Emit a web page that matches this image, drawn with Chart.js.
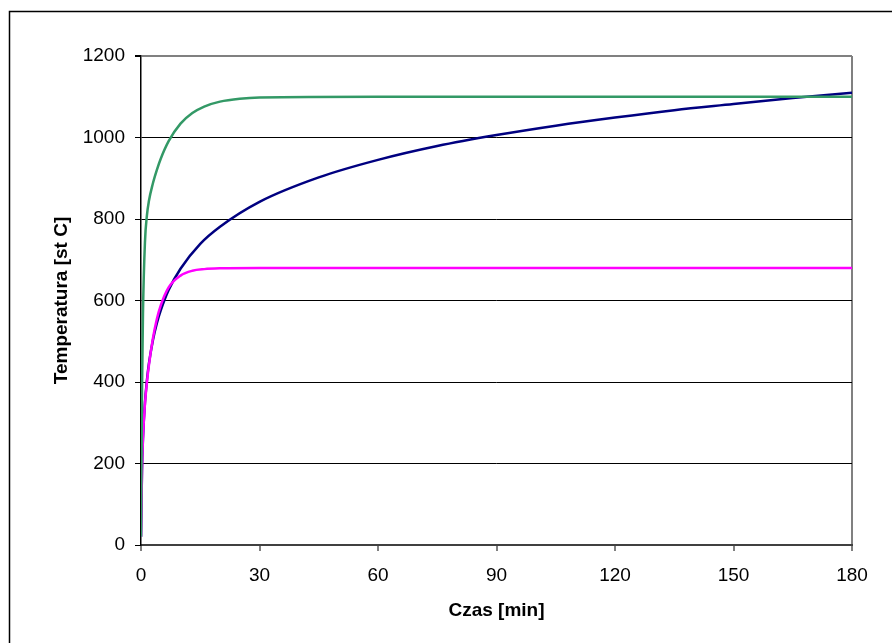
<!DOCTYPE html>
<html>
<head>
<meta charset="utf-8">
<script src="https://cdn.jsdelivr.net/npm/chart.js@4/dist/chart.umd.min.js"></script>
<style>
  html, body { margin: 0; padding: 0; background: #fff; }
  #wrap { width: 892px; height: 643px; }
</style>
</head>
<body>
<div id="wrap"><canvas id="chart" width="892" height="643"></canvas></div>
<script>
// values
const timeHydro = [0, 0.25, 0.5, 1, 1.5, 2, 3, 4, 5, 7, 10, 13, 16, 20, 25, 30, 60, 90, 120, 150, 180];
const tempHydro = [20, 373, 569, 743, 809, 844, 887, 920, 948, 991, 1034, 1060, 1076, 1088, 1095, 1098, 1100, 1100, 1100, 1100, 1100];

const timeExt = [0, 0.25, 0.5, 1, 1.5, 2, 3, 4, 5, 7, 10, 13, 16, 20, 30, 60, 90, 120, 150, 180];
const tempExt = [20, 182, 263, 346, 399, 441, 506, 554, 588, 632, 661, 673, 677, 679, 680, 680, 680, 680, 680, 680];

const timeIso = [0, 0.25, 0.5, 1, 1.5, 2, 3, 4, 5, 7, 10, 15, 20, 30, 45, 60, 75, 90, 105, 120, 135, 150, 165, 180];
const tempIso = [20, 185, 261, 349, 404, 445, 502, 544, 576, 626, 678, 739, 781, 842, 902, 945, 979, 1006, 1029, 1049, 1067, 1082, 1097, 1110];

const xTicks = [0, 30, 60, 90, 120, 150, 180];
const yTicks = [0, 200, 400, 600, 800, 1000, 1200];

const toPoints = (xs, ys) => xs.map((x, i) => ({ x: x, y: ys[i] }));

// outer frame of the chart object
const framePlugin = {
  id: "frame",
  beforeDraw(chart) {
    const ctx = chart.ctx;
    ctx.save();
    ctx.fillStyle = "#fff";
    ctx.fillRect(0, 0, chart.width, chart.height);
    ctx.strokeStyle = "#000";
    ctx.lineWidth = 1.5;
    ctx.strokeRect(9.5, 11.5, 1000, 1000);
    ctx.restore();
  }
};

const font = { family: "Arial, 'Liberation Sans', sans-serif", size: 19 };
const boldFont = { family: "Arial, 'Liberation Sans', sans-serif", size: 19, weight: "bold" };
const lineOpts = { borderWidth: 2.5, pointRadius: 0, fill: false, cubicInterpolationMode: "monotone" };

new Chart(document.getElementById("chart"), {
  type: "line",
  data: {
    datasets: [
      Object.assign({ data: toPoints(timeHydro, tempHydro), borderColor: "#339966" }, lineOpts),
      Object.assign({ data: toPoints(timeExt, tempExt), borderColor: "#ff00ff" }, lineOpts),
      Object.assign({ data: toPoints(timeIso, tempIso), borderColor: "#000080" }, lineOpts)
    ]
  },
  options: {
    responsive: false,
    animation: false,
    layout: { padding: { left: 50, top: 56, right: 40, bottom: 21 } },
    plugins: { legend: { display: false }, tooltip: { enabled: false } },
    scales: {
      x: {
        type: "linear",
        min: 0, max: 180,
        afterBuildTicks: s => { s.ticks = xTicks.map(v => ({ value: v })); },
        afterFit: s => { s.height = 77; },
        ticks: { font: font, color: "#000", padding: 13, maxRotation: 0, callback: v => String(v) },
        grid: {
          color: c => c.tick && c.tick.value === 180 ? "#808080" : "rgba(0,0,0,0)",
          lineWidth: 2,
          tickColor: "#000",
          tickLength: 6,
          tickWidth: 1
        },
        border: { color: "#404040", width: 2 },
        title: { display: true, text: "Czas [min]", color: "#000", font: boldFont, padding: 0 }
      },
      y: {
        min: 0, max: 1200,
        afterBuildTicks: s => { s.ticks = yTicks.map(v => ({ value: v })); },
        afterFit: s => { s.width = 91; },
        ticks: { font: font, color: "#000", padding: 10, callback: v => String(v) },
        grid: {
          color: c => c.tick && c.tick.value === 1200 ? "#808080" : "#000",
          lineWidth: c => c.tick && c.tick.value === 1200 ? 2 : 1,
          tickColor: "#000",
          tickLength: 6
        },
        border: { color: "#000", width: 1.5 },
        title: { display: true, text: "Temperatura [st C]", color: "#000", font: boldFont, padding: 0 }
      }
    }
  },
  plugins: [framePlugin]
});
</script>
</body>
</html>
